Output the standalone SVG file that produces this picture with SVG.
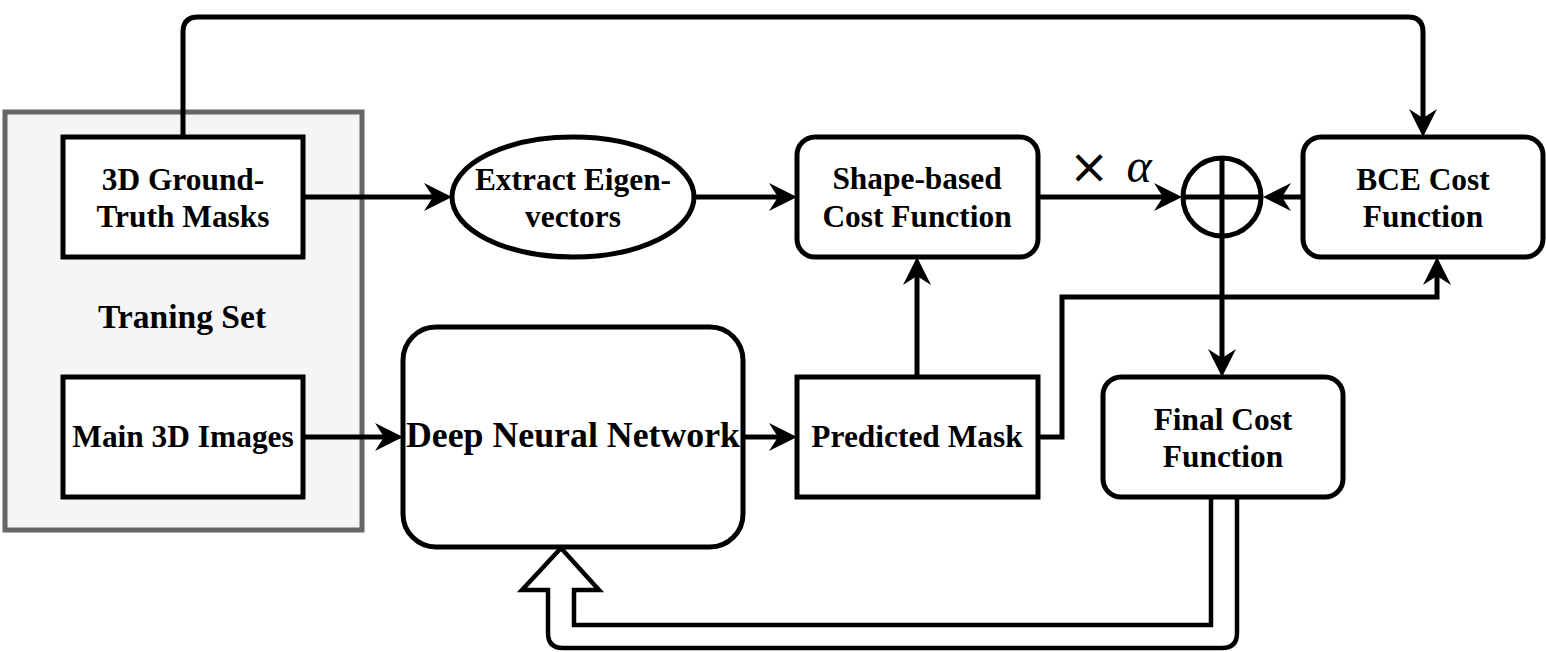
<svg xmlns="http://www.w3.org/2000/svg" width="1546" height="652" viewBox="0 0 1546 652">
<style>
.box{fill:#fff;stroke:#000;stroke-width:5}
.t{font-family:"Liberation Serif","Times New Roman",serif;font-weight:bold;font-size:31.4px;text-anchor:middle;fill:#000}
.edge{fill:none;stroke:#000;stroke-width:5}
</style>
<defs>
<marker id="arr" markerUnits="userSpaceOnUse" viewBox="-40 -16 42 32" markerWidth="42" markerHeight="32" refX="-10" refY="0" orient="auto" overflow="visible">
<path d="M0,0 L-28,-14 L-19,0 L-28,14 Z" fill="#000"/>
</marker>
</defs>
<rect width="1546" height="652" fill="#fff"/>

<g id="training-set">
<rect x="5" y="112" width="357" height="418" fill="#f5f5f5" stroke="#666" stroke-width="5"/>
<text class="t" x="182" y="328" style="font-size:33.6px">Traning Set</text>
</g>

<g id="connectors">
<path class="edge" d="M183,137 L183,32 Q183,17 198,17 L1408,17 Q1423,17 1423,32 L1423,127" marker-end="url(#arr)"/>
<path class="edge" d="M303,197 L442,197" marker-end="url(#arr)"/>
<path class="edge" d="M695,197 L787,197" marker-end="url(#arr)"/>
<path class="edge" d="M1038,197 L1172,197" marker-end="url(#arr)"/>
<path class="edge" d="M1303,197 L1273,197" marker-end="url(#arr)"/>
<path class="edge" d="M303,437 L393,437" marker-end="url(#arr)"/>
<path class="edge" d="M743,437 L787,437" marker-end="url(#arr)"/>
<path class="edge" d="M917,377 L917,267" marker-end="url(#arr)"/>
<path class="edge" d="M1038,437 L1062,437 L1062,297 L1437,297 L1437,267" marker-end="url(#arr)"/>
<path class="edge" d="M1222,238 L1222,367" marker-end="url(#arr)"/>
<path d="M1211,497 L1211,625 L574,625 L574,590 L599,590 L561,548 L522,590 L548,590 L548,633 Q548,648 563,648 L1222,648 Q1237,648 1237,633 L1237,497" fill="#fff" stroke="#000" stroke-width="4.5" stroke-linejoin="miter"/>
<text x="1089" y="183" style="font-family:'DejaVu Sans',sans-serif;font-size:48px;text-anchor:middle">×</text>
<text x="1139" y="182" style="font-family:'Liberation Serif',serif;font-style:italic;font-size:48px;text-anchor:middle">α</text>
</g>

<g id="gt-masks">
<rect class="box" x="63" y="137" width="240" height="120"/>
<text class="t" x="183" y="190">3D Ground-</text>
<text class="t" x="183" y="227">Truth Masks</text>
</g>

<g id="main-images">
<rect class="box" x="63" y="377" width="240" height="120"/>
<text class="t" x="183" y="447">Main 3D Images</text>
</g>

<g id="eigen">
<ellipse class="box" cx="573" cy="197" rx="121" ry="60"/>
<text class="t" x="573" y="190">Extract Eigen-</text>
<text class="t" x="573" y="227">vectors</text>
</g>

<g id="shape-cost">
<rect class="box" x="797" y="137" width="241" height="120" rx="18"/>
<text class="t" x="917" y="189">Shape-based</text>
<text class="t" x="917" y="227">Cost Function</text>
</g>

<g id="sum">
<circle cx="1222" cy="197" r="39" fill="#fff" stroke="#000" stroke-width="5"/>
<path d="M1222,158 L1222,236 M1183,197 L1261,197" stroke="#000" stroke-width="5" fill="none"/>
</g>

<g id="bce">
<rect class="box" x="1303" y="137" width="240" height="120" rx="18"/>
<text class="t" x="1423" y="190">BCE Cost</text>
<text class="t" x="1423" y="227">Function</text>
</g>

<g id="dnn">
<rect class="box" x="403" y="327" width="340" height="220" rx="33"/>
<text class="t" x="573" y="447" style="font-size:35.8px">Deep Neural Network</text>
</g>

<g id="pred-mask">
<rect class="box" x="797" y="377" width="241" height="120"/>
<text class="t" x="917" y="447">Predicted Mask</text>
</g>

<g id="final-cost">
<rect class="box" x="1103" y="377" width="240" height="120" rx="18"/>
<text class="t" x="1223" y="430">Final Cost</text>
<text class="t" x="1223" y="467">Function</text>
</g>
</svg>
